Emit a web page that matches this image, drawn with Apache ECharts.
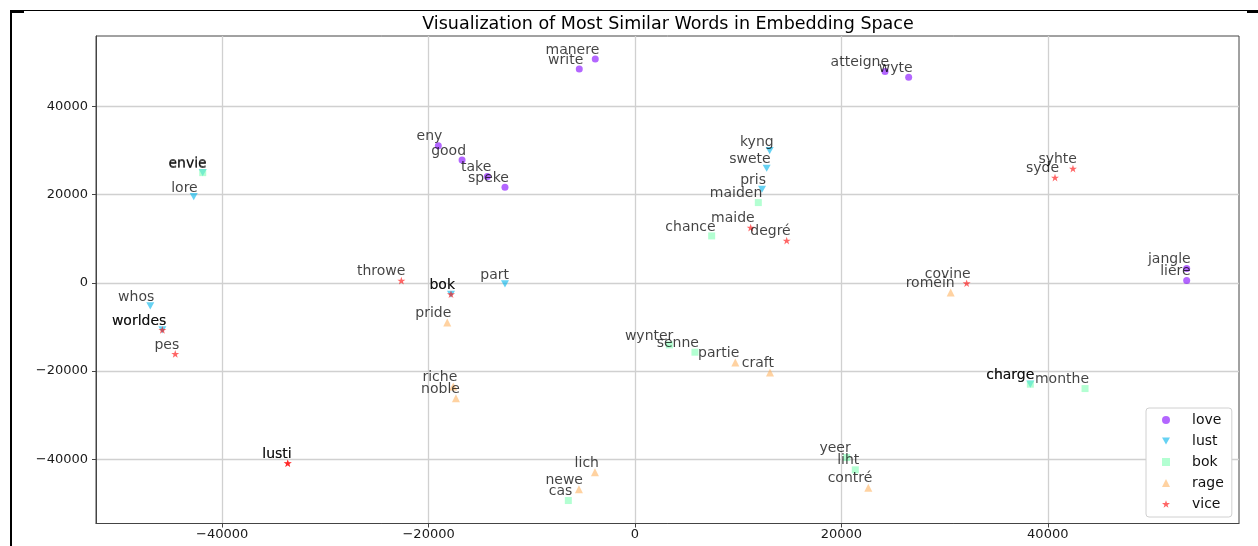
<!DOCTYPE html>
<html>
<head>
<meta charset="utf-8">
<script src="https://cdn.jsdelivr.net/npm/echarts@6/dist/echarts.min.js"></script>
<style>
html,body{margin:0;padding:0;background:#fff;}
#chart{width:1258px;height:546px;}
</style>
</head>
<body>
<div id="chart"></div>
<script>
// ---- data ----
const seriesNames = ['love', 'lust', 'bok', 'rage', 'vice'];
const tickValues = [-40000, -20000, 0, 20000, 40000];

const loveWords = ['manere', 'write', 'eny', 'good', 'take', 'speke', 'atteigne', 'wyte', 'jangle', 'liere'];
const lovePts = [[-3850, 50800], [-5400, 48540], [-19060, 31140], [-16760, 27900], [-14310, 24110],
                 [-12600, 21700], [24230, 47930], [26520, 46650], [53460, 3250], [53460, 530]];

const lustWords = ['envie', 'lore', 'kyng', 'swete', 'pris', 'part', 'bok', 'whos', 'worldes', 'charge'];
const lustPts = [[-41890, 25015], [-42760, 19570], [13050, 30010], [12760, 26010], [12310, 21250],
                 [-12600, -230], [-17830, -2570], [-46970, -5220], [-45800, -10660], [38310, -22980]];

const bokWords = ['envie', 'maiden', 'chance', 'wynter', 'senne', 'cas', 'yeer', 'liht', 'charge', 'monthe'];
const bokPts = [[-41890, 25015], [11950, 18220], [7430, 10660], [3330, -14060], [5810, -15720],
                [-6460, -49370], [20510, -39620], [21350, -42410], [38310, -22980], [43610, -23970]];

const rageWords = ['romein', 'pride', 'riche', 'noble', 'partie', 'craft', 'lich', 'newe', 'contré'];
const ragePts = [[30590, -2190], [-18190, -9000], [-17610, -23520], [-17350, -26150], [9720, -18070],
                 [13080, -20340], [-3880, -42940], [-5430, -46790], [22610, -46490]];

const viceWords = ['maide', 'degré', 'syhte', 'syde', 'covine', 'throwe', 'bok', 'worldes', 'pes', 'lusti', 'lusti'];
const vicePts = [[11210, 12540], [14700, 9600], [42440, 25930], [40700, 23890], [32140, -70],
                 [-22640, 520], [-17830, -2570], [-45800, -10660], [-44550, -16100], [-33650, -40900], [-33650, -40900]];

// ---- styling ----
const FONT = 'DejaVu Sans';
const STAR = 'path://M50,0 L61.8,35.1 L98.1,35.1 L68.8,56.8 L79.4,91.5 L50,70 L20.6,91.5 L31.2,56.8 L1.9,35.1 L38.2,35.1 Z';
const DOWN_TRI = 'path://M0,0 L10,0 L5,9 Z';
const styles = {
  love: {color: '#8000ff', symbol: 'circle', size: 7},
  lust: {color: '#00b4eb', symbol: DOWN_TRI, size: 8},
  bok:  {color: '#80ffb4', symbol: 'rect', size: 7},
  rage: {color: '#ffb462', symbol: 'triangle', size: 8},
  vice: {color: '#ff0000', symbol: STAR, size: 8}
};
const allWords = {love: loveWords, lust: lustWords, bok: bokWords, rage: rageWords, vice: viceWords};
const allPts = {love: lovePts, lust: lustPts, bok: bokPts, rage: ragePts, vice: vicePts};

const fmt = v => String(v).replace('-', '\u2212');

const series = seriesNames.map(n => {
  const st = styles[n];
  const s = st.size;
  return {
    name: n,
    type: 'scatter',
    symbol: st.symbol,
    symbolSize: s,
    symbolKeepAspect: true,
    itemStyle: {color: st.color, opacity: 0.6},
    data: allPts[n].map((p, i) => ({name: allWords[n][i], value: p})),
    label: {
      show: true,
      formatter: '{b}',
      position: [s / 2 + 4, s / 2 - 2],
      align: 'right',
      verticalAlign: 'bottom',
      fontFamily: FONT,
      fontSize: 14,
      opacity: 1,
      color: 'rgba(0,0,0,0.74)'
    },
    labelLayout: {hideOverlap: false},
    emphasis: {disabled: true}
  };
});

const chart = echarts.init(document.getElementById('chart'), null, {renderer: 'canvas'});
chart.setOption({
  animation: false,
  backgroundColor: '#fff',
  grid: {left: 96, right: 19, top: 36, bottom: 22.5, show: true, borderColor: '#444', borderWidth: 1},
  xAxis: {
    type: 'value', min: -52230, max: 58530,
    axisLine: {show: true, onZero: false, lineStyle: {color: '#444'}},
    axisTick: {show: true, length: 4, customValues: tickValues, lineStyle: {color: '#444'}},
    axisLabel: {customValues: tickValues, formatter: fmt, fontFamily: FONT, fontSize: 13, color: '#1a1a1a', margin: 5},
    splitLine: {show: true, lineStyle: {color: '#d0d0d0', width: 1.3}}
  },
  yAxis: {
    type: 'value', min: -54580, max: 56010,
    axisLine: {show: true, onZero: false, lineStyle: {color: '#444'}},
    axisTick: {show: true, length: 4, customValues: tickValues, lineStyle: {color: '#444'}},
    axisLabel: {customValues: tickValues, formatter: fmt, fontFamily: FONT, fontSize: 13, color: '#1a1a1a', margin: 8},
    splitLine: {show: true, lineStyle: {color: '#d0d0d0', width: 1.3}}
  },
  legend: {
    orient: 'vertical',
    left: 1146, top: 408,
    itemWidth: 8, itemHeight: 8, itemGap: 7,
    padding: [5, 8, 6, 16],
    backgroundColor: '#fff',
    borderColor: '#d0d0d0', borderWidth: 1, borderRadius: 3,
    textStyle: {fontFamily: FONT, fontSize: 14, color: '#111', lineHeight: 14, padding: [0, 0, 0, 17]},
    data: seriesNames,
    selectedMode: false
  },
  graphic: [
    {type: 'text', x: 668, y: 15, z: 10,
     style: {text: 'Visualization of Most Similar Words in Embedding Space', font: '17.5px "DejaVu Sans"',
             fill: '#000', textAlign: 'center', textVerticalAlign: 'top'}},
    {type: 'rect', shape: {x: 10, y: 10, width: 1248, height: 1}, style: {fill: '#000'}},
    {type: 'rect', shape: {x: 10, y: 10, width: 2, height: 536}, style: {fill: '#000'}},
    {type: 'rect', shape: {x: 10, y: 10, width: 14, height: 3}, style: {fill: '#000'}},
    {type: 'rect', shape: {x: 1247, y: 10, width: 11, height: 3}, style: {fill: '#000'}}
  ],
  series: series
});
</script>
</body>
</html>
